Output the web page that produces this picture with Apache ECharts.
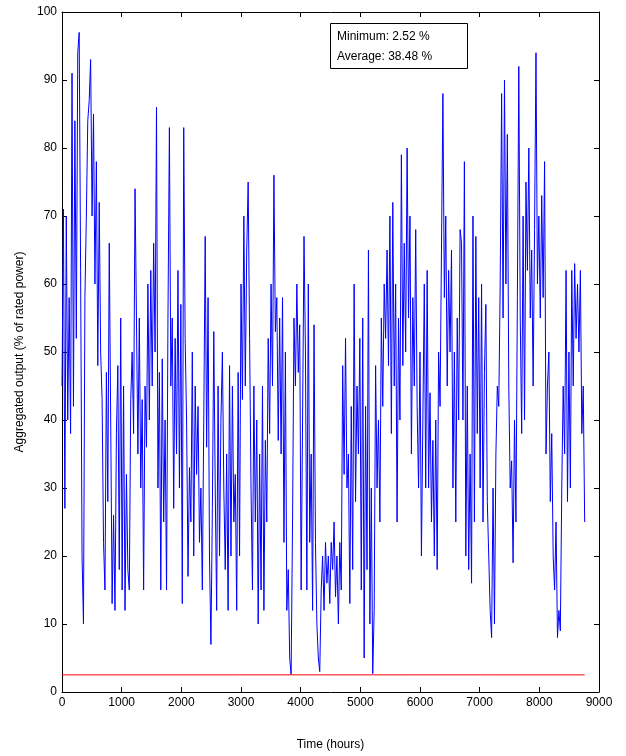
<!DOCTYPE html>
<html>
<head>
<meta charset="utf-8">
<title>Aggregated output</title>
<script src="https://cdn.jsdelivr.net/npm/echarts@6/dist/echarts.min.js"></script>
<style>
  html, body { margin: 0; padding: 0; background: #fff; }
  #chart { width: 626px; height: 756px; }
</style>
</head>
<body>
<div id="chart"></div>
<script>
// one value every 24 hours (% of rated power)
var stepHours = 24;
var output = [
  45, 71, 27, 70, 40, 58, 38, 91, 42, 84,
  52, 94, 97, 62, 20, 10, 58, 70, 84, 87,
  93, 70, 85, 60, 78, 48, 72, 50, 43, 22,
  15, 47, 28, 66, 40, 13, 26, 12, 38, 48,
  18, 55, 15, 45, 12, 32, 18, 15, 43, 50,
  38, 74, 55, 35, 55, 30, 43, 15, 45, 36,
  60, 40, 62, 45, 66, 50, 86, 30, 47, 15,
  49, 25, 40, 15, 55, 83, 45, 55, 27, 52,
  35, 62, 30, 57, 13, 83, 52, 40, 17, 33,
  25, 50, 20, 45, 32, 42, 22, 30, 15, 40,
  67, 36, 58, 20, 7, 27, 53, 30, 12, 45,
  20, 40, 50, 30, 18, 35, 12, 48, 20, 45,
  25, 32, 12, 47, 20, 60, 43, 70, 45, 65,
  75, 52, 30, 15, 45, 25, 40, 10, 35, 15,
  45, 12, 37, 25, 52, 38, 60, 45, 76, 53,
  58, 37, 55, 35, 58, 22, 50, 12, 18, 5,
  2.6, 25, 55, 45, 60, 47, 54, 15, 40, 67,
  50, 15, 60, 22, 35, 12, 54, 22, 10, 5,
  3, 15, 20, 12, 22, 16, 20, 13, 22, 18,
  25, 14, 20, 10, 22, 15, 48, 32, 52, 30,
  35, 13, 42, 18, 60, 28, 45, 35, 52, 15,
  55, 5, 42, 18, 65, 10, 30, 2.7, 12, 48,
  30, 40, 25, 55, 42, 60, 52, 65, 48, 70,
  38, 72, 45, 60, 25, 55, 40, 79, 48, 66,
  50, 80, 55, 70, 35, 58, 45, 68, 42, 30,
  50, 20, 40, 60, 30, 62, 30, 44, 25, 37,
  20, 40, 18, 50, 42, 65, 88, 58, 70, 45,
  62, 50, 65, 30, 50, 25, 55, 40, 68, 66,
  40, 78, 20, 45, 18, 35, 16, 70, 25, 67,
  38, 58, 30, 60, 25, 47, 57, 28, 20, 12,
  8, 30, 10, 35, 45, 42, 60, 88, 55, 90,
  60, 82, 45, 30, 34, 19, 40, 25, 58, 92,
  55, 38, 70, 40, 75, 62, 80, 55, 65, 45,
  68, 94, 60, 70, 55, 73, 58, 78, 35, 45,
  50, 28, 38, 20, 15, 25, 8, 12, 9, 30,
  45, 35, 62, 28, 50, 30, 62, 45, 63, 52,
  60, 50, 62, 38, 45, 25
];

// statistics shown in the box and the minimum line
var minimumValue = 2.52;
var averageValue = 38.48;
var lastHour = 8760;

// x / y tick settings: [min, max, interval]
var xTicks = [0, 9000, 1000];
var yTicks = [0, 100, 10];

var points = [];
for (var i = 0; i < output.length; i++) {
  points.push([i * stepHours, output[i]]);
}
var minLine = [[0, minimumValue], [lastHour, minimumValue]];

var font = 'Liberation Sans, Arial, Helvetica, sans-serif';

var myChart = echarts.init(document.getElementById('chart'));

// common look of all four sides of the box (matlab style, ticks inside)
function side(extra) {
  var a = {
    type: 'value',
    axisLine: { show: true, onZero: false, lineStyle: { color: '#000', width: 1 } },
    axisTick: { show: true, inside: true, length: 5, lineStyle: { color: '#000' } },
    splitLine: { show: false },
    axisLabel: { show: false }
  };
  for (var k in extra) a[k] = extra[k];
  return a;
}

// plain numbers, no thousands separator
var labelStyle = {
  show: true, color: '#000', fontSize: 12, fontFamily: font, margin: 5,
  showMinLabel: true, showMaxLabel: true,
  formatter: function (v) { return String(v); }
};

var option = {
  animation: false,
  backgroundColor: '#fff',
  grid: { left: 62, right: 27, top: 12, bottom: 63 },
  xAxis: [
    side({
      position: 'bottom', min: xTicks[0], max: xTicks[1], interval: xTicks[2],
      axisLabel: labelStyle,
      name: 'Time (hours)', nameLocation: 'middle', nameGap: 47,
      nameTextStyle: { color: '#000', fontSize: 12, fontFamily: font }
    }),
    side({ position: 'top', min: xTicks[0], max: xTicks[1], interval: xTicks[2] })
  ],
  yAxis: [
    side({
      position: 'left', min: yTicks[0], max: yTicks[1], interval: yTicks[2],
      axisLabel: labelStyle,
      name: 'Aggregated output (% of rated power)', nameLocation: 'middle', nameGap: 36,
      nameTextStyle: { color: '#000', fontSize: 12, fontFamily: font }
    }),
    side({ position: 'right', min: yTicks[0], max: yTicks[1], interval: yTicks[2] })
  ],
  series: [
    {
      name: 'output',
      type: 'line',
      data: points,
      showSymbol: false,
      sampling: null,
      lineStyle: { color: '#0000ff', width: 1 },
      z: 2
    },
    {
      name: 'minimum',
      type: 'line',
      data: minLine,
      showSymbol: false,
      lineStyle: { color: '#ff0000', width: 1 },
      z: 3
    }
  ],
  // text box top right
  graphic: [
    {
      type: 'rect',
      shape: { x: 330.5, y: 23.5, width: 137, height: 45 },
      style: { fill: '#fff', stroke: '#000', lineWidth: 1 },
      z: 10
    },
    {
      type: 'text',
      x: 337, y: 37,
      style: { text: 'Minimum: ' + minimumValue.toFixed(2) + ' %', fill: '#000', fontSize: 12, fontFamily: font, verticalAlign: 'middle' },
      z: 11
    },
    {
      type: 'text',
      x: 337, y: 57,
      style: { text: 'Average: ' + averageValue.toFixed(2) + ' %', fill: '#000', fontSize: 12, fontFamily: font, verticalAlign: 'middle' },
      z: 11
    }
  ]
};

myChart.setOption(option);
</script>
</body>
</html>
